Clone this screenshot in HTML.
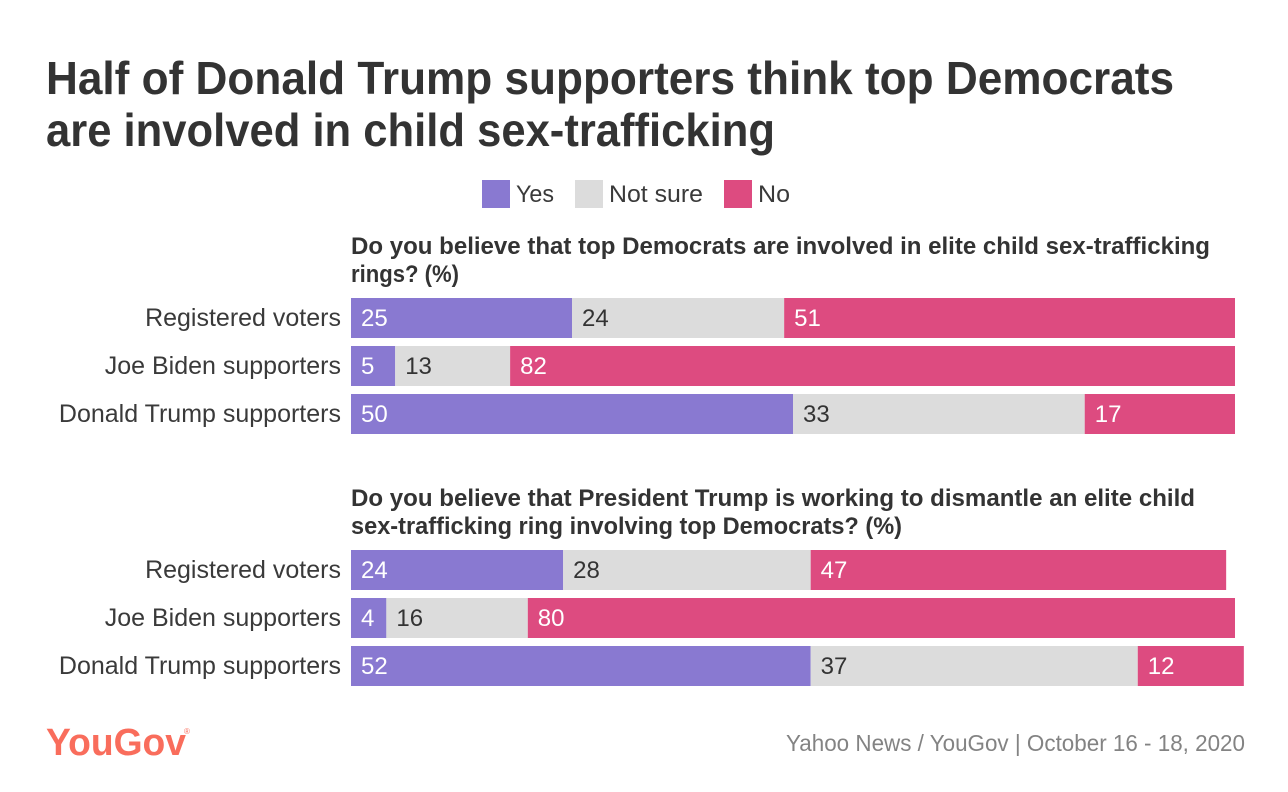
<!DOCTYPE html>
<html lang="en">
<head>
<meta charset="utf-8">
<title>Half of Donald Trump supporters think top Democrats are involved in child sex-trafficking</title>
<style>
html,body{margin:0;padding:0;background:#fff;width:1288px;height:792px;overflow:hidden}
svg{display:block}
text{font-family:"Liberation Sans",sans-serif;fill:#333}
.ttl{font-size:46px;font-weight:700}
.q{font-size:24px;font-weight:700}
.cat{font-size:25px;text-anchor:end;fill:#3a3a3a}
.val{font-size:24px}
.leg{font-size:24.5px;fill:#3a3a3a}
</style>
</head>
<body>
<svg id="chart" width="1288" height="792" viewBox="0 0 1288 792" xmlns="http://www.w3.org/2000/svg">
<rect x="0" y="0" width="1288" height="792" fill="#ffffff"/>
<g>
<text class="ttl" x="46" y="94" textLength="1128" lengthAdjust="spacingAndGlyphs">Half of Donald Trump supporters think top Democrats</text>
<text class="ttl" x="46" y="146" textLength="729" lengthAdjust="spacingAndGlyphs">are involved in child sex-trafficking</text>
</g>
<g>
<rect x="482" y="180" width="28" height="28" fill="#8979d1"/>
<text class="leg" x="516" y="202" textLength="38" lengthAdjust="spacingAndGlyphs">Yes</text>
<rect x="575" y="180" width="28" height="28" fill="#dcdcdc"/>
<text class="leg" x="609" y="202" textLength="94" lengthAdjust="spacingAndGlyphs">Not sure</text>
<rect x="724" y="180" width="28" height="28" fill="#dd4b80"/>
<text class="leg" x="758" y="202" textLength="32" lengthAdjust="spacingAndGlyphs">No</text>
</g>
<g>
<text class="q" x="351" y="254" textLength="859" lengthAdjust="spacingAndGlyphs">Do you believe that top Democrats are involved in elite child sex-trafficking</text>
<text class="q" x="351" y="282" textLength="108" lengthAdjust="spacingAndGlyphs">rings? (%)</text>
</g>
<g>
<text class="q" x="351" y="506" textLength="844" lengthAdjust="spacingAndGlyphs">Do you believe that President Trump is working to dismantle an elite child</text>
<text class="q" x="351" y="534" textLength="551" lengthAdjust="spacingAndGlyphs">sex-trafficking ring involving top Democrats? (%)</text>
</g>
<g id="bars"></g>
<g>
<text x="46" y="755" textLength="140" lengthAdjust="spacingAndGlyphs" style="font-size:38px;font-weight:700;fill:#f96d5c">YouGov</text>
<text x="184" y="734" style="font-size:8px;fill:#f96d5c">®</text>
</g>
<text x="786" y="751" textLength="459" lengthAdjust="spacingAndGlyphs" style="font-size:23px;fill:#838383">Yahoo News / YouGov | October 16 - 18, 2020</text>
</svg>
<script>
const categories = ['Registered voters', 'Joe Biden supporters', 'Donald Trump supporters'];
const q1Yes = [25, 5, 50];
const q1NotSure = [24, 13, 33];
const q1No = [51, 82, 17];
const q2Yes = [24, 4, 52];
const q2NotSure = [28, 16, 37];
const q2No = [47, 80, 12];

const NS = 'http://www.w3.org/2000/svg';
const root = document.getElementById('bars');
const xScale = v => 351 + v * 8.84;
const rowY = (panelTop, i) => panelTop + i * 48;

function drawSegment(parent, start, value, y, fill, textFill, series, cat) {
  const r = document.createElementNS(NS, 'rect');
  
  
  r.setAttribute('x', xScale(start));
  r.setAttribute('y', y);
  r.setAttribute('width', xScale(start + value) - xScale(start));
  r.setAttribute('height', 40);
  r.setAttribute('fill', fill);
  parent.appendChild(r);
  const t = document.createElementNS(NS, 'text');
  
  
  t.setAttribute('class', 'val');
  t.setAttribute('x', xScale(start) + 10);
  t.setAttribute('y', y + 28);
  t.style.fill = textFill;
  t.textContent = value;
  parent.appendChild(t);
}

function drawPanel(name, top, yes, notSure, no) {
  const g = document.createElementNS(NS, 'g');
  
  
  root.appendChild(g);
  categories.forEach((c, i) => {
    const y = rowY(top, i);
    const slug = c.toLowerCase().replace(/ /g, '-');
    const l = document.createElementNS(NS, 'text');
    
    
    l.setAttribute('class', 'cat');
    l.setAttribute('x', 341);
    l.setAttribute('y', y + 28);
    l.textContent = c;
    g.appendChild(l);
    drawSegment(g, 0, yes[i], y, '#8979d1', '#ffffff', 'yes', slug);
    drawSegment(g, yes[i], notSure[i], y, '#dcdcdc', '#333333', 'not-sure', slug);
    drawSegment(g, yes[i] + notSure[i], no[i], y, '#dd4b80', '#ffffff', 'no', slug);
  });
}

drawPanel('question-1-bars', 298, q1Yes, q1NotSure, q1No);
drawPanel('question-2-bars', 550, q2Yes, q2NotSure, q2No);
</script>
</body>
</html>
